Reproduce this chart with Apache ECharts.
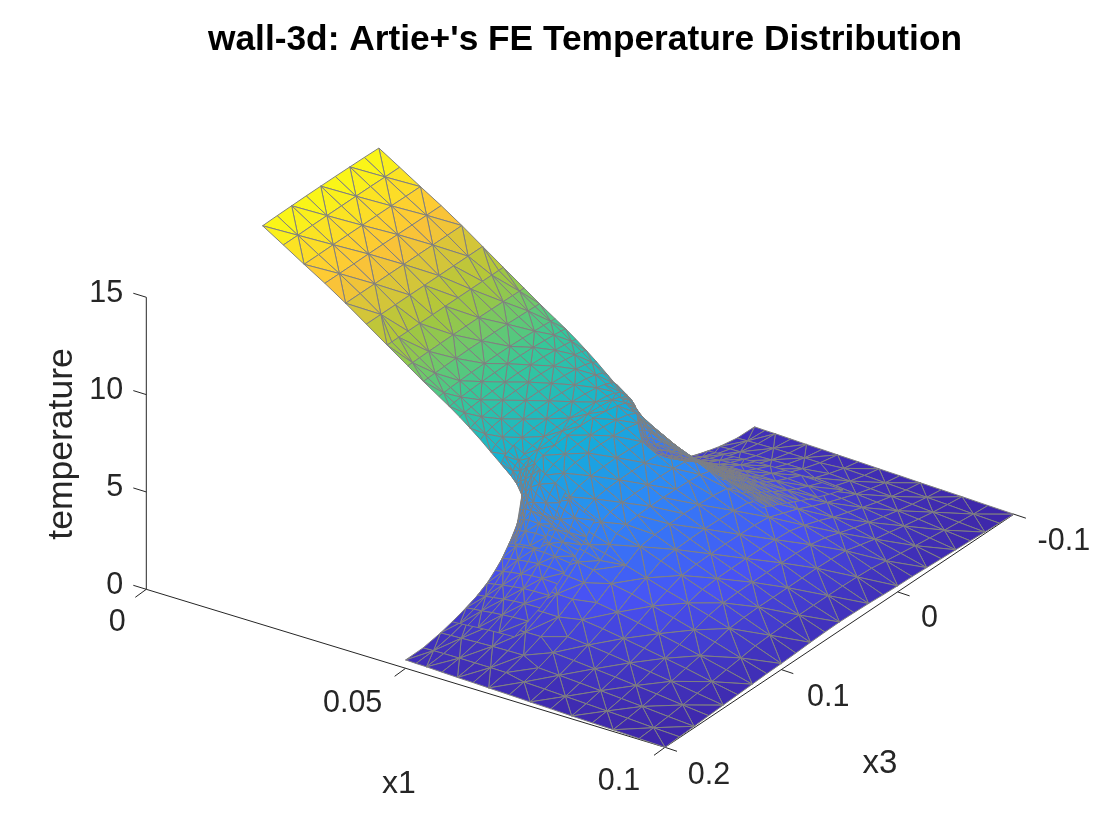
<!DOCTYPE html>
<html>
<head>
<meta charset="utf-8">
<title>wall-3d</title>
<script src="https://cdn.jsdelivr.net/npm/echarts@6/dist/echarts.min.js"></script>
<style>
html, body { margin: 0; background: #fff; }
#main { width: 1120px; height: 840px; }
</style>
</head>
<body>
<div id="main"></div>
<script>
// ---- axis ticks
var x1Ticks = [0, 0.05, 0.1];
var x3Ticks = [0.2, 0.1, 0, -0.1];
var tempTicks = [0, 5, 10, 15];

// ---- surface nodes: x1 levels, x3 columns, temperature per node
var x3FinCoarse = [0, 0.0125, 0.025, 0.0375, 0.05, 0.0625, 0.075, 0.0875, 0.1];
var x1FinCoarse = [0, 0.004, 0.008, 0.012, 0.016, 0.02];
var tempFinCoarse = [
    [14.68, 14.7, 14.71, 14.72, 14.72, 14.72, 14.71, 14.7, 14.68],
    [14.02, 14.02, 14.03, 14.03, 14.03, 14.03, 14.03, 14.02, 14.02],
    [13.35, 13.35, 13.36, 13.36, 13.36, 13.36, 13.36, 13.35, 13.35],
    [12.7, 12.7, 12.7, 12.71, 12.71, 12.71, 12.7, 12.7, 12.7],
    [12.0, 12.0, 12.0, 12.0, 12.0, 12.0, 12.0, 12.0, 12.0],
    [11.25, 11.25, 11.25, 11.25, 11.25, 11.25, 11.25, 11.25, 11.25]
];

var x3FinMid = [0, 0.004, 0.01, 0.018, 0.028, 0.039, 0.05, 0.061, 0.072, 0.082, 0.09, 0.096, 0.1];
var x1FinMid = [0.024, 0.028, 0.031, 0.034, 0.036, 0.038, 0.04, 0.042, 0.044, 0.046, 0.048, 0.049];
var tempFinMid = [
    [10.5, 10.5, 10.5, 10.5, 10.5, 10.5, 10.5, 10.5, 10.5, 10.5, 10.5, 10.5, 10.5],
    [9.76, 9.76, 9.77, 9.78, 9.79, 9.8, 9.8, 9.8, 9.79, 9.78, 9.77, 9.76, 9.76],
    [9.2, 9.21, 9.23, 9.25, 9.27, 9.29, 9.29, 9.29, 9.27, 9.25, 9.23, 9.21, 9.2],
    [8.67, 8.7, 8.73, 8.76, 8.79, 8.81, 8.82, 8.81, 8.79, 8.76, 8.73, 8.7, 8.67],
    [8.32, 8.36, 8.4, 8.44, 8.48, 8.5, 8.52, 8.5, 8.48, 8.44, 8.4, 8.36, 8.32],
    [7.94, 8.0, 8.05, 8.1, 8.15, 8.18, 8.2, 8.18, 8.15, 8.1, 8.05, 8.0, 7.94],
    [7.53, 7.63, 7.71, 7.78, 7.85, 7.89, 7.9, 7.89, 7.85, 7.78, 7.71, 7.63, 7.53],
    [7.1, 7.24, 7.36, 7.45, 7.52, 7.56, 7.58, 7.56, 7.52, 7.45, 7.36, 7.24, 7.1],
    [6.63, 6.85, 7.0, 7.12, 7.2, 7.24, 7.26, 7.24, 7.2, 7.12, 7.0, 6.85, 6.63],
    [6.17, 6.52, 6.7, 6.82, 6.9, 6.94, 6.96, 6.94, 6.9, 6.82, 6.7, 6.52, 6.17],
    [5.7, 6.2, 6.43, 6.56, 6.64, 6.68, 6.7, 6.68, 6.64, 6.56, 6.43, 6.2, 5.7],
    [5.4, 6.05, 6.3, 6.44, 6.52, 6.56, 6.58, 6.56, 6.52, 6.44, 6.3, 6.05, 5.4]
];

var x3BaseMid = [-0.1, -0.085, -0.07, -0.055, -0.04, -0.028, -0.018, -0.01, -0.004, 0, 0.004, 0.01, 0.018, 0.028, 0.039, 0.05,
    0.061, 0.072, 0.082, 0.09, 0.096, 0.1, 0.104, 0.11, 0.118, 0.128, 0.14, 0.155, 0.17, 0.185, 0.2];
var x1BaseMid = [0.05, 0.052, 0.054, 0.057, 0.06, 0.063, 0.066];
var tempBaseMid = [
    [0.43, 0.45, 0.62, 0.88, 1.22, 1.65, 2.25, 2.95, 3.6, 4.9, 5.7, 6.05, 6.22, 6.34, 6.42, 6.45, 6.42, 6.34, 6.22, 6.05, 5.7, 4.9, 3.6, 2.95, 2.25, 1.65, 1.22, 0.88, 0.62, 0.45, 0.43],
    [0.41, 0.47, 0.65, 0.92, 1.29, 1.75, 2.36, 3.05, 3.75, 4.46, 5.15, 5.68, 5.92, 6.06, 6.13, 6.15, 6.13, 6.06, 5.92, 5.68, 5.15, 4.46, 3.75, 3.05, 2.36, 1.75, 1.29, 0.92, 0.65, 0.47, 0.41],
    [0.4, 0.48, 0.67, 0.97, 1.36, 1.84, 2.46, 3.1, 3.72, 4.22, 4.8, 5.38, 5.64, 5.78, 5.83, 5.85, 5.83, 5.78, 5.64, 5.38, 4.8, 4.22, 3.72, 3.1, 2.46, 1.84, 1.36, 0.97, 0.67, 0.48, 0.4],
    [0.37, 0.49, 0.71, 1.04, 1.46, 1.95, 2.55, 3.12, 3.63, 3.9, 4.38, 4.98, 5.22, 5.34, 5.38, 5.4, 5.38, 5.34, 5.22, 4.98, 4.38, 3.9, 3.63, 3.12, 2.55, 1.95, 1.46, 1.04, 0.71, 0.49, 0.37],
    [0.34, 0.49, 0.74, 1.09, 1.52, 2.0, 2.55, 3.05, 3.43, 3.62, 4.03, 4.56, 4.8, 4.9, 4.94, 4.95, 4.94, 4.9, 4.8, 4.56, 4.03, 3.62, 3.43, 3.05, 2.55, 2.0, 1.52, 1.09, 0.74, 0.49, 0.34],
    [0.32, 0.49, 0.76, 1.12, 1.55, 2.0, 2.5, 2.92, 3.22, 3.4, 3.75, 4.18, 4.38, 4.46, 4.49, 4.5, 4.49, 4.46, 4.38, 4.18, 3.75, 3.4, 3.22, 2.92, 2.5, 2.0, 1.55, 1.12, 0.76, 0.49, 0.32],
    [0.29, 0.48, 0.77, 1.13, 1.54, 1.97, 2.42, 2.76, 3.0, 3.2, 3.5, 3.83, 3.98, 4.04, 4.07, 4.08, 4.07, 4.04, 3.98, 3.83, 3.5, 3.2, 3.0, 2.76, 2.42, 1.97, 1.54, 1.13, 0.77, 0.48, 0.29]
];

var x3BaseCoarse = [-0.1, -0.0875, -0.075, -0.0625, -0.05, -0.0375, -0.025, -0.0125, 0, 0.0125, 0.025, 0.0375, 0.05,
    0.0625, 0.075, 0.0875, 0.1, 0.1125, 0.125, 0.1375, 0.15, 0.1625, 0.175, 0.1875, 0.2];
var x1BaseCoarse = [0.07, 0.074, 0.078, 0.082, 0.086, 0.09, 0.095, 0.1];
var tempBaseCoarse = [
    [0.26, 0.42, 0.65, 0.93, 1.25, 1.62, 2.0, 2.48, 2.92, 3.38, 3.5, 3.55, 3.57, 3.55, 3.5, 3.38, 2.92, 2.48, 2.0, 1.62, 1.25, 0.93, 0.65, 0.42, 0.26],
    [0.22, 0.38, 0.59, 0.85, 1.15, 1.48, 1.83, 2.27, 2.6, 2.97, 3.06, 3.1, 3.12, 3.1, 3.06, 2.97, 2.6, 2.27, 1.83, 1.48, 1.15, 0.85, 0.59, 0.38, 0.22],
    [0.19, 0.33, 0.52, 0.75, 1.02, 1.31, 1.62, 1.98, 2.26, 2.55, 2.63, 2.66, 2.67, 2.66, 2.63, 2.55, 2.26, 1.98, 1.62, 1.31, 1.02, 0.75, 0.52, 0.33, 0.19],
    [0.15, 0.28, 0.45, 0.65, 0.88, 1.13, 1.38, 1.7, 1.96, 2.16, 2.22, 2.24, 2.25, 2.24, 2.22, 2.16, 1.96, 1.7, 1.38, 1.13, 0.88, 0.65, 0.45, 0.28, 0.15],
    [0.12, 0.23, 0.37, 0.54, 0.73, 0.94, 1.15, 1.4, 1.64, 1.79, 1.84, 1.85, 1.85, 1.85, 1.84, 1.79, 1.64, 1.4, 1.15, 0.94, 0.73, 0.54, 0.37, 0.23, 0.12],
    [0.09, 0.18, 0.29, 0.43, 0.58, 0.75, 0.9, 1.1, 1.3, 1.37, 1.4, 1.4, 1.4, 1.4, 1.4, 1.37, 1.3, 1.1, 0.9, 0.75, 0.58, 0.43, 0.29, 0.18, 0.09],
    [0.04, 0.1, 0.18, 0.27, 0.37, 0.47, 0.58, 0.69, 0.81, 0.86, 0.89, 0.9, 0.9, 0.9, 0.89, 0.86, 0.81, 0.69, 0.58, 0.47, 0.37, 0.27, 0.18, 0.1, 0.04],
    [0, 0.04, 0.08, 0.13, 0.17, 0.21, 0.25, 0.29, 0.31, 0.35, 0.4, 0.43, 0.45, 0.43, 0.4, 0.35, 0.31, 0.29, 0.25, 0.21, 0.17, 0.13, 0.08, 0.04, 0]
];

// medium mesh spreading out from the far corner (x1 0.05, x3 0) and the near one (x1 0.05, x3 0.1)
var x1Spread = [0.05, 0.0515, 0.053, 0.055, 0.057, 0.059, 0.062, 0.065, 0.068, 0.072, 0.076];
var x3SpreadFar = [-0.06, -0.048, -0.038, -0.03, -0.023, -0.017, -0.012, -0.008, -0.005, -0.002, 0, 0.002, 0.005, 0.009];
var tempSpreadFar = [
    [0.79, 1.03, 1.29, 1.58, 1.95, 2.33, 2.76, 3.12, 3.45, 3.97, 4.9, 5.45, 5.77, 6.0],
    [0.82, 1.08, 1.34, 1.64, 2.02, 2.42, 2.86, 3.23, 3.57, 4.08, 4.54, 4.95, 5.37, 5.67],
    [0.85, 1.12, 1.4, 1.72, 2.1, 2.5, 2.95, 3.3, 3.62, 4.05, 4.33, 4.67, 5.08, 5.41],
    [0.9, 1.19, 1.48, 1.8, 2.18, 2.57, 3.0, 3.33, 3.6, 3.93, 4.1, 4.38, 4.78, 5.12],
    [0.93, 1.24, 1.54, 1.87, 2.25, 2.63, 3.0, 3.3, 3.53, 3.8, 3.9, 4.14, 4.5, 4.85],
    [0.96, 1.28, 1.58, 1.9, 2.27, 2.62, 2.96, 3.22, 3.42, 3.63, 3.71, 3.93, 4.27, 4.6],
    [0.99, 1.32, 1.6, 1.92, 2.24, 2.56, 2.86, 3.06, 3.24, 3.4, 3.47, 3.65, 3.95, 4.22],
    [1.0, 1.33, 1.6, 1.9, 2.2, 2.48, 2.74, 2.92, 3.06, 3.2, 3.25, 3.4, 3.65, 3.88],
    [0.99, 1.31, 1.58, 1.85, 2.12, 2.37, 2.61, 2.78, 2.9, 3.02, 3.07, 3.2, 3.37, 3.55],
    [0.95, 1.24, 1.5, 1.75, 1.98, 2.2, 2.39, 2.52, 2.62, 2.76, 2.8, 2.9, 3.03, 3.15],
    [0.9, 1.15, 1.4, 1.61, 1.82, 1.99, 2.15, 2.27, 2.36, 2.44, 2.47, 2.54, 2.65, 2.73]
];
var x3SpreadNear = [0.091, 0.095, 0.098, 0.1, 0.102, 0.105, 0.108, 0.112, 0.117, 0.123, 0.13, 0.138, 0.148, 0.16];
var tempSpreadNear = [
    [6.0, 5.77, 5.45, 4.9, 3.97, 3.45, 3.12, 2.76, 2.33, 1.95, 1.58, 1.29, 1.03, 0.79],
    [5.67, 5.37, 4.95, 4.54, 4.08, 3.57, 3.23, 2.86, 2.42, 2.02, 1.64, 1.34, 1.08, 0.82],
    [5.41, 5.08, 4.67, 4.33, 4.05, 3.62, 3.3, 2.95, 2.5, 2.1, 1.72, 1.4, 1.12, 0.85],
    [5.12, 4.78, 4.38, 4.1, 3.93, 3.6, 3.33, 3.0, 2.57, 2.18, 1.8, 1.48, 1.19, 0.9],
    [4.85, 4.5, 4.14, 3.9, 3.8, 3.53, 3.3, 3.0, 2.63, 2.25, 1.87, 1.54, 1.24, 0.93],
    [4.6, 4.27, 3.93, 3.71, 3.63, 3.42, 3.22, 2.96, 2.62, 2.27, 1.9, 1.58, 1.28, 0.96],
    [4.22, 3.95, 3.65, 3.47, 3.4, 3.24, 3.06, 2.86, 2.56, 2.24, 1.92, 1.6, 1.32, 0.99]
];

// finer nodes tight round the two corners
var x1Corner = [0.046, 0.048, 0.049, 0.0495, 0.05, 0.0505, 0.051, 0.052, 0.054, 0.056];
var x3CornerFar = [-0.011, -0.006, -0.003, -0.001, 0, 0.001, 0.003, 0.006, 0.011];
var tempCornerFar = [
    [6.17, 6.33, 6.47, 6.58, 6.7],
    [5.7, 5.95, 6.13, 6.28, 6.41],
    [5.4, 5.72, 5.95, 6.13, 6.28],
    [5.2, 5.55, 5.82, 6.03, 6.2],
    [2.85, 3.3, 3.75, 4.2, 4.9, 5.3, 5.6, 5.85, 6.08],
    [2.88, 3.35, 3.8, 4.25, 4.73, 5.05, 5.42, 5.72, 5.98],
    [2.92, 3.39, 3.84, 4.3, 4.62, 4.88, 5.27, 5.6, 5.88],
    [2.98, 3.45, 3.9, 4.3, 4.46, 4.65, 5.03, 5.38, 5.71],
    [3.06, 3.5, 3.87, 4.12, 4.22, 4.35, 4.7, 5.05, 5.41],
    [3.08, 3.48, 3.78, 3.94, 4.0, 4.11, 4.42, 4.76, 5.14]
];
var x3CornerNear = [0.089, 0.094, 0.097, 0.099, 0.1, 0.101, 0.103, 0.106, 0.111];
var tempCornerNear = [
    [6.7, 6.58, 6.47, 6.33, 6.17],
    [6.41, 6.28, 6.13, 5.95, 5.7],
    [6.28, 6.13, 5.95, 5.72, 5.4],
    [6.2, 6.03, 5.82, 5.55, 5.2],
    [6.08, 5.85, 5.6, 5.3, 4.9, 4.2, 3.75, 3.3, 2.85],
    [5.98, 5.72, 5.42, 5.05, 4.73, 4.25, 3.8, 3.35, 2.88],
    [5.88, 5.6, 5.27, 4.88, 4.62, 4.3, 3.84, 3.39, 2.92],
    [5.71, 5.38, 5.03, 4.65, 4.46, 4.3, 3.9, 3.45, 2.98],
    [5.41, 5.05, 4.7, 4.35, 4.22, 4.12, 3.87, 3.5, 3.06],
    [5.14, 4.76, 4.42, 4.11, 4.0, 3.94, 3.78, 3.48, 3.08]
];

// parula
var parula = ['#3e26a8', '#4852f4', '#2e87f7', '#12b1d6', '#37c897', '#abc739', '#fec338', '#f9fb14'];

// view of the 3d box on the page plane
var view = { ox: 146.3, oy: 589.3, x1x: 5187, x1y: 1580, x3x: -1163, x3y: 777, tz: 19.47, x3ref: 0.2 };
function project(x1, x3, t) {
    return [
        view.ox + view.x1x * x1 + view.x3x * (x3 - view.x3ref),
        view.oy + view.x1y * x1 + view.x3y * (x3 - view.x3ref) - view.tz * t
    ];
}

function makeRows(levels, columns, temps) {
    return levels.map(function (x1, i) {
        return { nodes: temps[i].map(function (t, j) { return [x1, columns[j], t]; }) };
    });
}
function makeCornerRows(columnsAll, temps, takeLast) {
    return x1Corner.map(function (x1, i) {
        var row = temps[i];
        var cols = row.length === columnsAll.length ? columnsAll
            : (takeLast ? columnsAll.slice(-row.length) : columnsAll.slice(0, row.length));
        return { nodes: row.map(function (t, j) { return [x1, cols[j], t]; }) };
    });
}

function tri(p, q, r) {
    return [p[0], p[1], p[2], q[0], q[1], q[2], r[0], r[1], r[2], (p[2] + q[2] + r[2]) / 3];
}

// stitch two neighbouring rows into triangles, columns need not match
function stitch(rowA, rowB, parity, out) {
    var lo = Math.max(rowA.nodes[0][1], rowB.nodes[0][1]);
    var hi = Math.min(rowA.nodes[rowA.nodes.length - 1][1], rowB.nodes[rowB.nodes.length - 1][1]);
    var inside = function (n) { return n[1] >= lo - 1e-9 && n[1] <= hi + 1e-9; };
    var a = rowA.nodes.filter(inside), b = rowB.nodes.filter(inside);
    var i = 0, j = 0, k = parity;
    while (i < a.length - 1 || j < b.length - 1) {
        var nextA = i < a.length - 1 ? a[i + 1][1] : Infinity;
        var nextB = j < b.length - 1 ? b[j + 1][1] : Infinity;
        if (Math.abs(nextA - nextB) < 1e-9) {
            if (k % 2) {
                out.push(tri(a[i], b[j], a[i + 1]), tri(a[i + 1], b[j], b[j + 1]));
            } else {
                out.push(tri(a[i], b[j], b[j + 1]), tri(a[i], b[j + 1], a[i + 1]));
            }
            i++; j++; k++;
        } else if (nextA < nextB) {
            out.push(tri(a[i], b[j], a[i + 1]));
            i++;
        } else {
            out.push(tri(a[i], b[j], b[j + 1]));
            j++;
        }
    }
}
function stitchAll(rows, out) {
    for (var i = 0; i + 1 < rows.length; i++) {
        stitch(rows[i], rows[i + 1], i, out);
    }
}

var facets = [];
stitchAll([].concat(
    makeRows(x1FinCoarse, x3FinCoarse, tempFinCoarse),
    makeRows(x1FinMid, x3FinMid, tempFinMid),
    makeRows(x1BaseMid, x3BaseMid, tempBaseMid),
    makeRows(x1BaseCoarse, x3BaseCoarse, tempBaseCoarse)
), facets);
stitchAll(makeRows(x1Spread, x3SpreadFar, tempSpreadFar), facets);
stitchAll(makeRows(x1Spread.slice(0, tempSpreadNear.length), x3SpreadNear, tempSpreadNear), facets);
stitchAll(makeCornerRows(x3CornerFar, tempCornerFar, true), facets);
stitchAll(makeCornerRows(x3CornerNear, tempCornerNear, false), facets);

// axis lines and tick marks
var axisSegments = [];
axisSegments.push([0, 0.2, 0, 0.1, 0.2, 0, 0, 0]);
axisSegments.push([0.1, 0.2, 0, 0.1, -0.1, 0, 0, 0]);
axisSegments.push([0, 0.2, 0, 0, 0.2, 15, 0, 0]);
x1Ticks.forEach(function (v) { axisSegments.push([v, 0.2, 0, v, 0.2, 0, -11, 8]); });
x3Ticks.forEach(function (v) { axisSegments.push([0.1, v, 0, 0.1, v, 0, 12, 4]); });
tempTicks.forEach(function (v) { axisSegments.push([0, 0.2, v, 0, 0.2, v, -13, -4]); });

// tick labels and axis names
var x1LabelOffset = [[-29, 33], [-53, 35], [-46, 34]];
var x3LabelOffset = [[44, 28], [47, 28], [32, 27], [50, 27]];
var labels = [];
x1Ticks.forEach(function (v, i) {
    var p = project(v, 0.2, 0);
    labels.push({ text: String(v), x: p[0] + x1LabelOffset[i][0], y: p[1] + x1LabelOffset[i][1], align: 'center', size: 30.5 });
});
x3Ticks.forEach(function (v, i) {
    var p = project(0.1, v, 0);
    labels.push({ text: String(v), x: p[0] + x3LabelOffset[i][0], y: p[1] + x3LabelOffset[i][1], align: 'center', size: 30.5 });
});
tempTicks.forEach(function (v) {
    var p = project(0, 0.2, v);
    labels.push({ text: String(v), x: p[0] - 23, y: p[1] - 4, align: 'right', size: 30.5 });
});
labels.push({ text: 'x1', x: 399, y: 784, align: 'center', size: 32 });
labels.push({ text: 'x3', x: 880, y: 764, align: 'center', size: 33 });
labels.push({ text: 'temperature', x: 62, y: 444, align: 'center', size: 35.5, rotate: Math.PI / 2 });

var chart = echarts.init(document.getElementById('main'));
chart.setOption({
    animation: false,
    backgroundColor: '#fff',
    title: {
        text: "wall-3d: Artie+'s FE Temperature Distribution",
        left: 580,
        top: 18,
        textAlign: 'center',
        textStyle: { fontFamily: 'Liberation Sans', fontSize: 35.3, fontWeight: 'bold', color: '#000' }
    },
    grid: { left: 0, right: 0, top: 0, bottom: 0 },
    xAxis: { type: 'value', min: 0, max: 1120, show: false },
    yAxis: { type: 'value', min: 0, max: 840, inverse: true, show: false },
    visualMap: {
        show: false,
        seriesIndex: 1,
        dimension: 9,
        min: 0,
        max: 14.7,
        inRange: { color: parula }
    },
    series: [{
        type: 'custom',
        coordinateSystem: 'cartesian2d',
        silent: true,
        clip: false,
        z: 1,
        data: axisSegments,
        renderItem: function (params, api) {
            var a = project(api.value(0), api.value(1), api.value(2));
            var b = project(api.value(3), api.value(4), api.value(5));
            var pa = api.coord(a), pb = api.coord(b);
            return {
                type: 'line',
                shape: { x1: pa[0], y1: pa[1], x2: pb[0] + api.value(6), y2: pb[1] + api.value(7) },
                style: { stroke: '#262626', lineWidth: 1 }
            };
        }
    }, {
        type: 'custom',
        coordinateSystem: 'cartesian2d',
        silent: true,
        clip: false,
        progressive: 0,
        z: 2,
        data: facets,
        renderItem: function (params, api) {
            var points = [0, 3, 6].map(function (k) {
                return api.coord(project(api.value(k), api.value(k + 1), api.value(k + 2)));
            });
            return {
                type: 'polygon',
                shape: { points: points },
                style: { fill: api.visual('color'), stroke: '#808080', lineWidth: 1 }
            };
        }
    }, {
        type: 'custom',
        coordinateSystem: 'cartesian2d',
        silent: true,
        clip: false,
        z: 3,
        data: labels.map(function (l) { return [l.x, l.y]; }),
        renderItem: function (params, api) {
            var l = labels[params.dataIndex];
            var p = api.coord([api.value(0), api.value(1)]);
            return {
                type: 'text',
                x: p[0],
                y: p[1],
                rotation: l.rotate || 0,
                style: {
                    text: l.text,
                    fill: '#262626',
                    font: l.size + 'px "Liberation Sans"',
                    textAlign: l.align,
                    textVerticalAlign: 'middle'
                }
            };
        }
    }]
});
</script>
</body>
</html>
